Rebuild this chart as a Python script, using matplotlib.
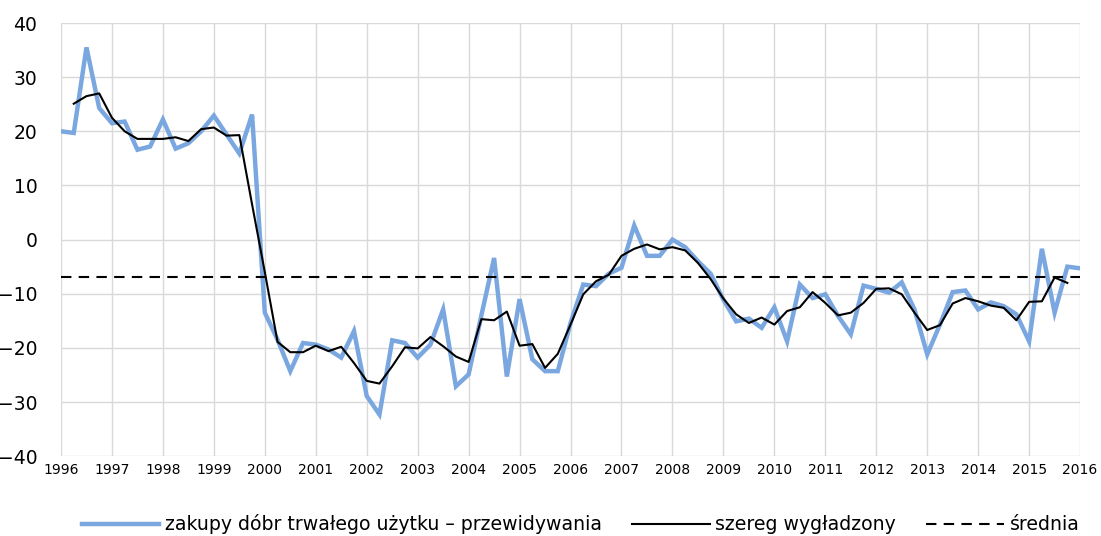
import numpy as np
import matplotlib
matplotlib.use('Agg')
import matplotlib.pyplot as plt

# quarterly data, 1996Q1 .. 2016Q1
start_year = 1996
survey = [20.0, 19.7, 35.5, 24.3, 21.5, 21.8, 16.6, 17.2, 22.2, 16.8, 17.8, 20.0,
          22.9, 19.4, 15.9, 23.1, -13.5, -18.5, -24.3, -19.1, -19.4, -20.3, -21.8, -16.9,
          -28.9, -32.3, -18.6, -19.1, -21.8, -19.4, -12.9, -27.1, -24.9, -14.0, -3.4, -25.3,
          -11.0, -22.1, -24.3, -24.3, -15.4, -8.3, -8.6, -6.3, -5.2, 2.6, -3.0, -3.0,
          0.0, -1.4, -4.0, -6.3, -11.1, -15.1, -14.6, -16.3, -12.5, -18.8, -8.3, -10.8,
          -10.1, -14.1, -17.5, -8.5, -9.1, -9.8, -7.9, -12.9, -21.2, -15.7, -9.7, -9.4,
          -12.9, -11.6, -12.3, -13.8, -18.8, -1.7, -13.5, -5.0, -5.3]
# smoothed series, 1996Q2 .. 2015Q4
smooth = [25.1, 26.5, 27.0, 22.5, 20.0, 18.6, 18.6, 18.6, 18.9, 18.2, 20.4,
          20.7, 19.2, 19.3, 6.5, -6.0, -18.9, -20.8, -20.8, -19.6, -20.6, -19.8, -22.8,
          -26.1, -26.6, -23.4, -19.9, -20.1, -18.0, -19.7, -21.6, -22.6, -14.7, -14.9, -13.3,
          -19.6, -19.3, -23.7, -21.1, -15.7, -10.1, -7.7, -6.5, -3.0, -1.7, -0.9, -1.8,
          -1.4, -2.0, -4.3, -7.3, -10.9, -13.8, -15.4, -14.4, -15.7, -13.2, -12.5, -9.7,
          -11.7, -14.0, -13.5, -11.7, -9.1, -9.0, -10.1, -13.5, -16.7, -15.8, -11.8, -10.8,
          -11.4, -12.2, -12.6, -14.9, -11.5, -11.4, -7.0, -8.0]
mean_val = -7.0
years = list(range(1996, 2017))

t_survey = start_year + np.arange(len(survey)) / 4
t_smooth = start_year + (np.arange(len(smooth)) + 1) / 4

fig = plt.figure(figsize=(11.01, 5.36), dpi=100)
ax = fig.add_axes([0.0554, 0.149, 0.9256, 0.808])

ax.plot(t_survey, survey, color='#7ba7e0', lw=3.2, solid_joinstyle='miter',
        label='zakupy dóbr trwałego użytku – przewidywania')
ax.plot(t_smooth, smooth, color='black', lw=1.5, label='szereg wygładzony')
ax.plot([t_survey[0], t_survey[-1]], [mean_val, mean_val], color='black', lw=1.5,
        ls=(0, (5, 3.5)), label='średnia')

ax.set_xlim(1996, 2016)
ax.set_ylim(-40, 40)
ax.set_xticks(years)
ax.set_xticklabels([str(y) for y in years], fontsize=10)
ax.set_yticks(range(-40, 41, 10))
ax.tick_params(axis='y', labelsize=13.5, length=0, pad=17)
ax.tick_params(axis='x', length=0, pad=5)
ax.grid(True, color='#d9d9d9', lw=1)
ax.set_axisbelow(True)
for s in ax.spines.values():
    s.set_visible(False)

ax.legend(loc='upper center', bbox_to_anchor=(0.51, -0.095), ncol=3, frameon=False,
          fontsize=13.6, handlelength=4.1, columnspacing=1.6, handletextpad=0.3)

fig.savefig('out.png', dpi=100)
